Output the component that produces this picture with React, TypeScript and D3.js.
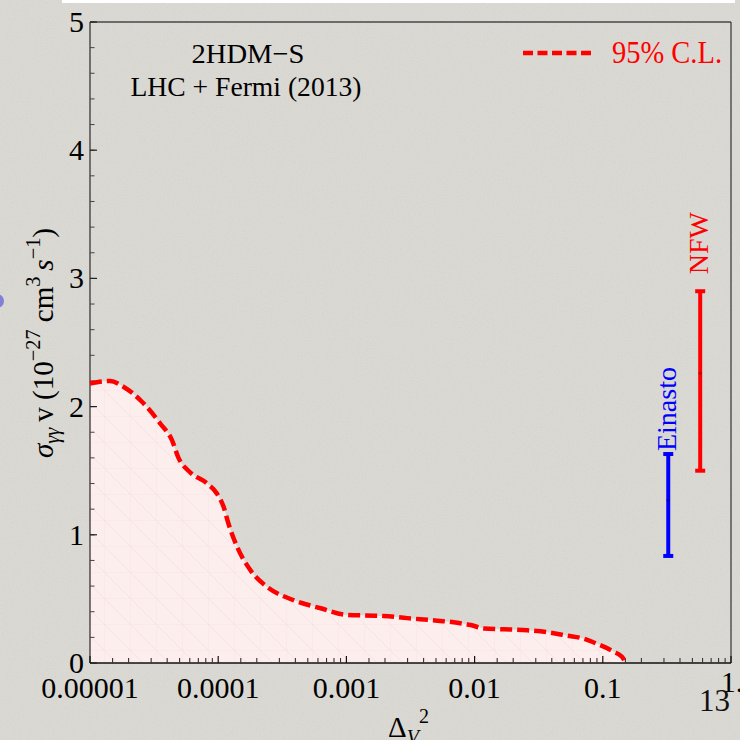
import React from 'react';
import * as d3 from 'd3';

// ---- data ----
const curveX = [1e-5, 1.43e-5, 1.82e-5, 2.53e-5, 3.52e-5, 4.35e-5, 4.9e-5, 6.0e-5, 8.2e-5, 9.8e-5, 1.1e-4, 1.2e-4, 1.4e-4, 1.78e-4, 2.4e-4, 3.87e-4, 6.3e-4, 1.01e-3, 1.95e-3, 2.98e-3, 5.12e-3, 7.33e-3, 9.3e-3, 1.18e-2, 1.69e-2, 2.58e-2, 3.7e-2, 5.3e-2, 6.93e-2, 9.1e-2, 0.122, 0.142, 0.151];
const curveY = [2.18, 2.2, 2.155, 2.04, 1.87, 1.74, 1.6, 1.49, 1.4, 1.32, 1.22, 1.09, 0.91, 0.725, 0.595, 0.49, 0.427, 0.375, 0.367, 0.35, 0.33, 0.314, 0.296, 0.27, 0.263, 0.255, 0.24, 0.213, 0.193, 0.148, 0.088, 0.045, 0.0];

const profileNames = ['Einasto', 'NFW'];
const profileX = [0.324, 0.575];
const profileLow = [0.835, 1.5];
const profileMid = [1.27, 2.26];
const profileHigh = [1.63, 2.9];
const profileColors = ['#0000ff', '#ff0000'];

const xTickValues = [1e-5, 1e-4, 1e-3, 1e-2, 1e-1, 1];
const xTickLabels = ['0.00001', '0.0001', '0.001', '0.01', '0.1', '1.'];
const xMinorMantissas = [1.5, 2, 3, 4, 5, 6, 7, 8, 9];
const yTickValues = [0, 1, 2, 3, 4, 5];
const yTickLabels = ['0', '1', '2', '3', '4', '5'];

const titleLines = ['2HDM\u2212S', 'LHC + Fermi (2013)'];
const legendLabel = '95% C.L.';

const W = 740;
const H = 740;
const FONT = '"Liberation Serif", "DejaVu Serif", serif';

export default function App() {
  const x = d3.scaleLog().domain([1e-5, 1]).range([90, 731]);
  const y = d3.scaleLinear().domain([0, 5]).range([663, 22]);
  const pts: [number, number][] = curveX.map((v, i) => [v, curveY[i]]);

  const line = d3
    .line<[number, number]>()
    .x((d) => x(d[0]))
    .y((d) => y(d[1]))
    .curve(d3.curveMonotoneX);
  const area = d3
    .area<[number, number]>()
    .x((d) => x(d[0]))
    .y0(y(0))
    .y1((d) => y(d[1]))
    .curve(d3.curveMonotoneX);

  const minorX: number[] = [];
  for (let e = -5; e < 0; e++) {
    xMinorMantissas.forEach((m) => minorX.push(m * Math.pow(10, e)));
  }
  const minorY = d3.range(0, 5.0001, 0.2);

  const [x0, x1] = x.range();
  const [yb, yt] = y.range();

  return (
    <svg
      width={W}
      height={H}
      viewBox={`0 0 ${W} ${H}`}
      style={{ position: 'absolute', left: 0, top: 0, display: 'block' }}
      fontFamily={FONT}
    >
      <defs>
        <filter id="paper" x="0" y="0" width="100%" height="100%">
          <feTurbulence type="fractalNoise" baseFrequency="0.8" numOctaves="3" seed="7" result="n" />
          <feColorMatrix type="saturate" values="0" in="n" result="g" />
          <feComponentTransfer in="g">
            <feFuncA type="linear" slope="0" intercept="0.08" />
          </feComponentTransfer>
        </filter>
        <pattern id="mesh" patternUnits="userSpaceOnUse" width="26" height="26">
          <path d="M0 0H26M0 0V26M0 0L26 26" stroke="#f3dede" strokeWidth="0.7" fill="none" />
        </pattern>
        <clipPath id="plotclip">
          <rect x={x0} y={yt} width={x1 - x0} height={yb - yt} />
        </clipPath>
      </defs>

      {/* background paper */}
      <rect x={0} y={0} width={W} height={H} fill="#dcdad4" />
      <rect x={0} y={0} width={W} height={H} filter="url(#paper)" />
      <rect x={62} y={0} width={673} height={3} fill="#ffffff" />
      <circle cx={-3} cy={301} r={7} fill="#6a6ad6" opacity={0.8} />

      {/* area under curve */}
      <g clipPath="url(#plotclip)">
        <path d={area(pts) || ''} fill="#fdeeee" />
        <path d={area(pts) || ''} fill="url(#mesh)" />
      </g>

      {/* frame */}
      <line x1={x0} x2={x1} y1={yt} y2={yt} stroke="#000" strokeWidth={1.2} />
      <line x1={x1} x2={x1} y1={yt} y2={yb} stroke="#333" strokeWidth={1.2} />
      <line x1={x0} x2={x0} y1={yt} y2={yb} stroke="#444" strokeWidth={1.4} />
      <line x1={x0} x2={x1} y1={yb} y2={yb} stroke="#111" strokeWidth={1.4} />

      {/* y ticks */}
      {minorY.map((v, i) => (
        <line key={'ym' + i} x1={x0} x2={x0 + 4.5} y1={y(v)} y2={y(v)} stroke="#444" strokeWidth={1} />
      ))}
      {yTickValues.map((v, i) => (
        <g key={'yt' + i}>
          <line x1={x0} x2={x0 + 7} y1={y(v)} y2={y(v)} stroke="#222" strokeWidth={1.2} />
          <text x={84} y={y(v) + 10} textAnchor="end" fontSize={30} fill="#000">
            {yTickLabels[i]}
          </text>
        </g>
      ))}

      {/* x ticks */}
      {minorX.map((v, i) => (
        <line key={'xm' + i} x1={x(v)} x2={x(v)} y1={yb} y2={yb - 5} stroke="#333" strokeWidth={1.1} />
      ))}
      {xTickValues.map((v, i) => (
        <g key={'xt' + i}>
          <line x1={x(v)} x2={x(v)} y1={yb} y2={yb - 7} stroke="#111" strokeWidth={1.2} />
          <text x={x(v) + (i === 5 ? 1 : 0)} y={i === 5 ? 692 : 698} textAnchor="middle" fontSize={30} fill="#000">
            {xTickLabels[i]}
          </text>
        </g>
      ))}

      {/* curve */}
      <path
        d={line(pts) || ''}
        fill="none"
        stroke="#ff0000"
        strokeWidth={4.5}
        strokeDasharray="12 5"
      />

      {/* error bars */}
      {profileNames.map((name, i) => {
        const cx = x(profileX[i]);
        const c = profileColors[i];
        return (
          <g key={name}>
            <line x1={cx} x2={cx} y1={y(profileLow[i])} y2={y(profileHigh[i])} stroke={c} strokeWidth={4} />
            <line x1={cx - 5} x2={cx + 5} y1={y(profileLow[i])} y2={y(profileLow[i])} stroke={c} strokeWidth={4} />
            <line x1={cx - 5} x2={cx + 5} y1={y(profileHigh[i])} y2={y(profileHigh[i])} stroke={c} strokeWidth={4} />
            <circle cx={cx} cy={y(profileMid[i])} r={1.6} fill={i === 0 ? '#0000aa' : '#bb0000'} />
            <text
              transform={`translate(${cx + 8},${y(profileHigh[i]) - 48 - (i === 1 ? 0 : -3)}) rotate(-90)`}
              textAnchor="middle"
              fontSize={28}
              fill={c}
            >
              {name}
            </text>
          </g>
        );
      })}

      {/* title */}
      <text x={248} y={63} textAnchor="middle" fontSize={28} fill="#000" textLength={113} lengthAdjust="spacingAndGlyphs">
        {titleLines[0]}
      </text>
      <text x={246} y={96} textAnchor="middle" fontSize={28} fill="#000" textLength={231} lengthAdjust="spacingAndGlyphs">
        {titleLines[1]}
      </text>

      {/* legend */}
      <line x1={523} x2={594} y1={53} y2={53} stroke="#ff0000" strokeWidth={4.5} strokeDasharray="10 4.5" />
      <text x={612} y={63} fontSize={31} fill="#ff0000" textLength={110} lengthAdjust="spacingAndGlyphs">
        {legendLabel}
      </text>

      {/* axis labels */}
      <text transform="translate(53,343) rotate(-90)" textAnchor="middle" fontSize={30} fill="#000" textLength={230} lengthAdjust="spacingAndGlyphs">
        <tspan fontStyle="italic">σ</tspan>
        <tspan fontSize={21} fontStyle="italic" dy={6}>γγ</tspan>
        <tspan dy={-6}>{'\u2009v (10'}</tspan>
        <tspan fontSize={21} dy={-13}>−27</tspan>
        <tspan dy={13}> cm</tspan>
        <tspan fontSize={21} dy={-13}>3</tspan>
        <tspan fontStyle="italic" dy={13}>{'\u2009s'}</tspan>
        <tspan fontSize={21} dy={-13}>−1</tspan>
        <tspan dy={13}>)</tspan>
      </text>
      <text x={388} y={737} fontSize={29} fill="#000">
        <tspan>Δ</tspan>
        <tspan fontSize={20} fontStyle="italic" dy={7}>V</tspan>
        <tspan fontSize={20} dy={-21}>2</tspan>
      </text>

      {/* page number */}
      <text x={699} y={711} fontSize={31} fill="#111">13</text>
    </svg>
  );
}
